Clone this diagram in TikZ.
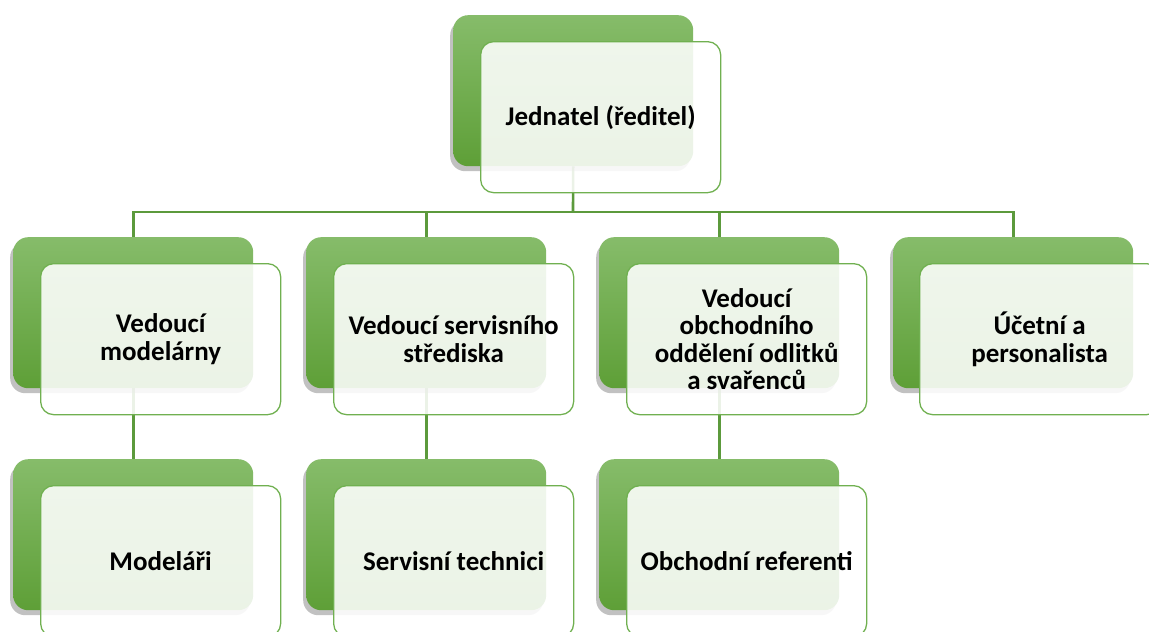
\documentclass[tikz,border=0pt]{standalone}
\usepackage{fontspec}
\setmainfont{Carlito}
\usetikzlibrary{shadows,backgrounds}
\definecolor{gtop}{RGB}{134,188,106}
\definecolor{gbot}{RGB}{94,159,55}
\definecolor{gline}{RGB}{92,154,60}
\definecolor{gedge}{RGB}{112,176,80}
\tikzset{
  backbox/.style={rectangle, rounded corners=15pt, minimum width=240pt, minimum height=151pt,
    anchor=north west, inner sep=0pt, top color=gtop, bottom color=gbot, draw=none,
    drop shadow={shadow xshift=-3pt, shadow yshift=-5pt, opacity=0.35, fill=black!70}},
  frontbox/.style={rectangle, rounded corners=13pt, minimum width=240pt, minimum height=151pt,
    anchor=north west, inner sep=0pt, draw=gedge, line width=1.3pt, fill=white, fill opacity=0.88,
    text opacity=1, align=center, font=\fontsize{27}{27.5}\selectfont\bfseries},
  conn/.style={draw=gline, line width=2.6pt}
}
\begin{document}
\begin{tikzpicture}[x=1pt,y=-1pt]
\useasboundingbox (0,0) rectangle (1149,632);
\clip (0,0) rectangle (1149,632);
% top
\node[backbox] (topb) at (453,15) {};
\node[frontbox] (topf) at (480,41) {Jednatel (ředitel)};
% level 1
\node[backbox] (b1) at (13,237) {};
\node[frontbox] (f1) at (40,263) {Vedoucí\\modelárny};
\node[backbox] (b2) at (306,237) {};
\node[frontbox] (f2) at (333,263) {Vedoucí servisního\\střediska};
\node[backbox] (b3) at (599,237) {};
\node[frontbox] (f3) at (626,263) {Vedoucí\\obchodního\\oddělení odlitků\\a svařenců};
\node[backbox] (b4) at (893,237) {};
\node[frontbox] (f4) at (919,263) {Účetní a\\personalista};
% level 2
\node[backbox] (c1) at (13,459) {};
\node[frontbox] (g1) at (40,485) {Modeláři};
\node[backbox] (c2) at (306,459) {};
\node[frontbox] (g2) at (333,485) {Servisní technici};
\node[backbox] (c3) at (599,459) {};
\node[frontbox] (g3) at (626,485) {Obchodní referenti};
\begin{scope}[on background layer]
\coordinate (bus) at (573,212);
\draw[conn] (topb.south) -- (bus);
\draw[conn] (bus) -| (b1.north);
\draw[conn] (bus) -| (b2.north);
\draw[conn] (bus) -| (b3.north);
\draw[conn] (bus) -| (b4.north);
\draw[conn] (b1.south) -- (c1.north);
\draw[conn] (b2.south) -- (c2.north);
\draw[conn] (b3.south) -- (c3.north);
\end{scope}
\end{tikzpicture}
\end{document}
